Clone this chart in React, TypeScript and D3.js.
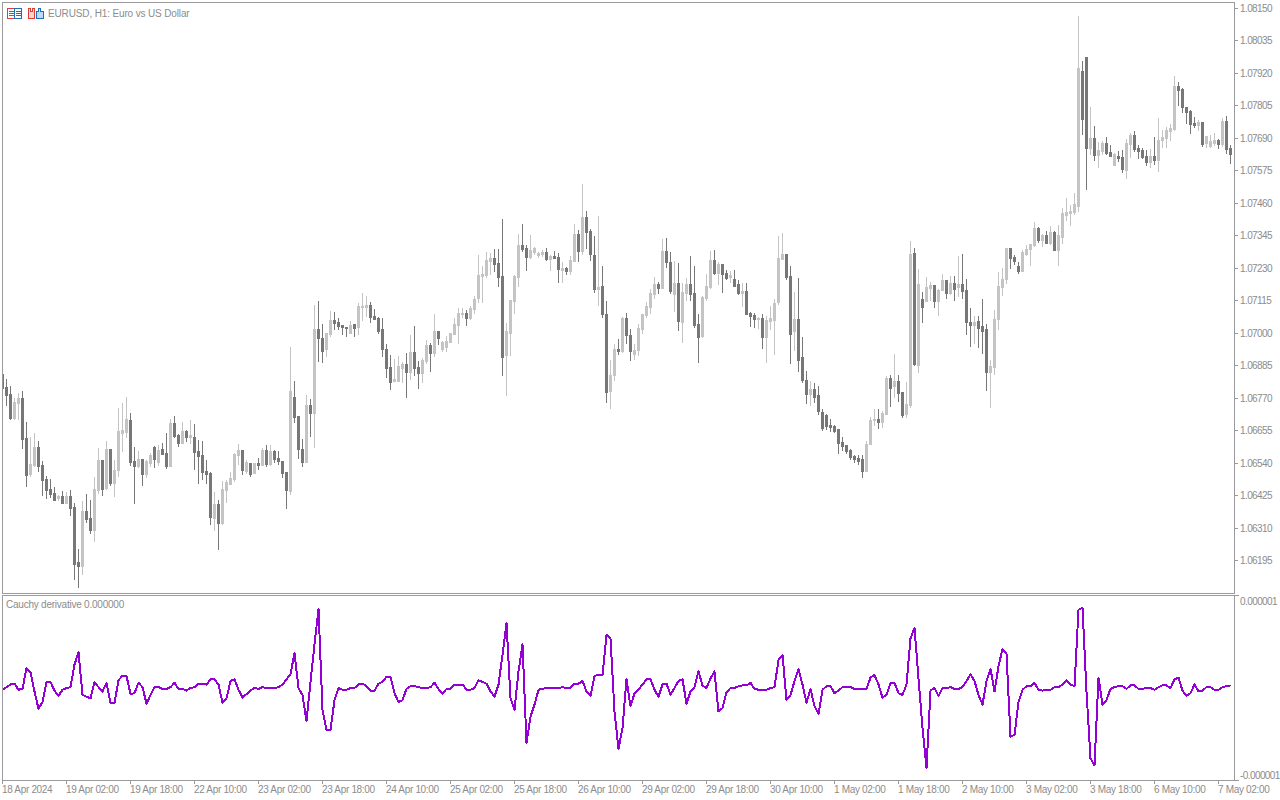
import React from "react";
import * as d3 from "d3";

// Prices are stored in points above 1.00000 (1 point = 0.00001)
const highs = [
6856,6838,6813,6771,6788,6795,6686,6633,6647,6618,
6548,6495,6484,6456,6427,6441,6438,6445,6399,6236,
6406,6431,6410,6491,6594,6551,6618,6590,6551,6735,
6753,6774,6718,6597,6583,6555,6551,6576,6601,6604,
6611,6647,6696,6707,6643,6686,6657,6693,6679,6622,
6618,6551,6509,6438,6410,6477,6480,6509,6576,6608,
6587,6551,6541,6541,6558,6594,6604,6604,6587,6583,
6548,6509,6951,6831,6707,6626,6781,6767,7100,7115,
7033,7001,7079,7076,7054,7030,7023,7044,7033,7108,
7143,7132,7111,7086,7058,7054,6962,6923,6909,6920,
6899,6931,6994,7026,6902,6913,6977,6966,7069,7008,
6973,6991,7001,7054,7090,7090,7083,7097,7132,7277,
7239,7288,7285,7299,7299,7405,7037,7118,7207,7352,
7387,7313,7348,7306,7288,7295,7302,7277,7292,7285,
7253,7235,7274,7387,7366,7529,7433,7370,7345,7416,
7238,7114,6905,6962,6980,7058,7072,7015,6962,7033,
7068,7111,7157,7199,7182,7334,7337,7288,7256,7249,
7178,7196,7274,7238,7068,7132,7210,7291,7295,7252,
7245,7224,7220,7224,7189,7178,7178,7075,7072,7058,
7068,7061,7097,7121,7344,7355,7281,7238,7146,7196,
6987,6866,6831,6824,6813,6732,6714,6697,6675,6661,
6633,6605,6590,6569,6569,6569,6619,6704,6732,6732,
6725,6849,6852,6927,6852,6792,6827,7327,7302,7228,
7147,7200,7182,7172,7157,7210,7189,7203,7203,7274,
7281,7193,7090,7062,7062,7122,7033,6906,7083,7218,
7232,7302,7302,7278,7253,7295,7313,7317,7395,7377,
7352,7363,7380,7363,7384,7444,7480,7455,7497,8124,
7964,7979,7802,7734,7678,7681,7695,7667,7639,7646,
7649,7688,7710,7717,7667,7656,7649,7653,7695,7763,
7720,7731,7741,7911,7890,7869,7802,7791,7766,7756,
7749,7699,7702,7710,7688,7763,7770,7667];

const lows = [
6807,6746,6696,6696,6696,6594,6459,6495,6530,6512,
6427,6417,6420,6410,6410,6399,6399,6356,6130,6102,
6148,6332,6293,6264,6434,6427,6449,6463,6424,6495,
6583,6633,6533,6399,6526,6463,6491,6530,6526,6533,
6572,6523,6530,6633,6601,6611,6618,6611,6519,6470,
6484,6470,6325,6303,6236,6325,6403,6466,6477,6537,
6502,6505,6495,6505,6519,6533,6530,6533,6544,6537,
6491,6381,6431,6686,6558,6530,6544,6636,6597,6902,
6899,6920,6991,7016,7016,6998,6991,7001,6991,6998,
7047,7062,7040,7051,7001,6920,6846,6803,6831,6831,
6828,6775,6839,6853,6807,6828,6895,6867,6920,6962,
6938,6938,6970,6998,6966,7058,7030,7051,7072,7111,
7111,7200,7210,7221,7168,6853,6782,6923,7072,7168,
7292,7224,7267,7281,7270,7274,7260,7224,7267,7182,
7182,7210,7210,7256,7256,7281,7302,7260,7147,7100,
7058,6757,6736,6835,6927,6934,6966,6905,6909,6923,
7001,7058,7072,7125,7143,7160,7235,7143,7079,7012,
6969,7118,7118,7022,6898,6987,7118,7160,7210,7174,
7146,7192,7182,7167,7139,7097,7068,7026,7022,7019,
6948,6898,7015,6927,7104,7263,7192,6895,6941,6866,
6827,6753,6746,6757,6714,6658,6661,6654,6651,6576,
6587,6576,6555,6544,6537,6491,6512,6608,6675,6665,
6668,6714,6743,6774,6760,6704,6704,6740,6888,6863,
7041,7115,7118,7094,7065,7154,7125,7140,7118,7133,
7125,6998,6956,6966,6952,6931,6800,6740,6856,7016,
7136,7179,7232,7246,7214,7221,7278,7242,7310,7324,
7310,7320,7317,7295,7242,7320,7402,7384,7423,7433,
7706,7511,7635,7614,7589,7635,7635,7628,7596,7610,
7572,7550,7625,7646,7621,7621,7596,7589,7600,7575,
7660,7660,7685,7720,7809,7784,7745,7710,7731,7720,
7664,7660,7660,7667,7656,7664,7639,7603];

const opens = [
6856,6810,6785,6700,6753,6771,6629,6502,6533,6597,
6533,6484,6449,6434,6417,6424,6399,6424,6385,6190,
6176,6371,6346,6303,6445,6551,6452,6590,6470,6516,
6647,6650,6693,6548,6530,6555,6502,6541,6597,6544,
6590,6576,6530,6682,6640,6611,6654,6633,6633,6583,
6569,6512,6505,6346,6395,6328,6445,6466,6484,6569,
6587,6512,6541,6505,6541,6533,6587,6537,6583,6558,
6548,6509,6441,6774,6707,6590,6544,6746,6718,7016,
6984,6945,6998,7047,7040,7030,7023,7001,7033,7023,
7093,7093,7100,7062,7054,7016,6945,6881,6831,6831,
6877,6892,6863,6934,6881,6860,6902,6959,6931,7008,
6945,6952,6970,6998,7030,7069,7072,7054,7086,7125,
7203,7207,7256,7267,7249,7203,6923,7001,7115,7200,
7313,7302,7270,7288,7277,7281,7288,7263,7274,7270,
7224,7231,7221,7256,7352,7292,7412,7362,7277,7157,
7167,7068,6796,6852,6944,6937,7054,6994,6927,6941,
7015,7065,7093,7139,7174,7160,7291,7252,7139,7178,
7040,7143,7174,7143,7033,6990,7125,7164,7259,7213,
7245,7213,7199,7192,7174,7143,7150,7072,7065,7051,
7054,6987,7043,7047,7111,7263,7281,7203,7008,7051,
6916,6835,6785,6803,6781,6721,6711,6675,6672,6661,
6615,6605,6587,6566,6558,6555,6512,6608,6693,6697,
6686,6714,6842,6813,6831,6792,6714,6747,7285,6888,
7122,7115,7161,7172,7115,7154,7189,7143,7179,7164,
7175,7154,7041,7030,7044,7026,7016,6863,6881,7051,
7164,7193,7302,7271,7239,7221,7281,7299,7313,7373,
7331,7349,7320,7359,7295,7341,7419,7426,7430,7451,
7929,7979,7656,7692,7632,7646,7674,7642,7596,7628,
7625,7579,7671,7702,7656,7649,7628,7607,7628,7614,
7685,7692,7717,7724,7876,7865,7802,7787,7745,7738,
7749,7674,7664,7674,7685,7671,7752,7656];

const closes = [
6807,6781,6700,6757,6771,6626,6498,6537,6597,6530,
6480,6445,6431,6410,6424,6399,6424,6381,6183,6176,
6371,6342,6303,6449,6551,6449,6590,6470,6516,6654,
6657,6696,6544,6530,6555,6502,6548,6569,6555,6587,
6572,6530,6682,6636,6611,6654,6633,6640,6580,6565,
6509,6502,6349,6395,6328,6449,6473,6487,6572,6587,
6516,6544,6502,6541,6533,6587,6537,6583,6555,6548,
6505,6445,6795,6703,6590,6544,6746,6718,7016,6984,
6938,7001,7047,7037,7026,7023,7019,7030,7019,7097,
7097,7100,7058,7051,7008,6945,6877,6828,6839,6885,
6892,6863,6934,6877,6860,6906,6959,6931,7008,6984,
6970,6973,7001,7033,7072,7072,7054,7090,7122,7207,
7210,7260,7267,7246,7200,6916,7008,7118,7203,7313,
7299,7270,7295,7302,7285,7288,7263,7274,7267,7228,
7231,7221,7260,7352,7292,7412,7359,7281,7157,7164,
7068,6792,6852,6944,6937,7054,6994,6937,6941,7019,
7068,7097,7143,7174,7160,7291,7252,7150,7178,7043,
7146,7174,7139,7029,6987,7128,7167,7259,7213,7245,
7210,7196,7206,7167,7143,7150,7068,7061,7051,7054,
6987,7047,7054,7107,7266,7281,7199,6997,7051,6905,
6835,6785,6803,6774,6725,6665,6672,6668,6654,6612,
6601,6583,6562,6555,6548,6512,6608,6693,6697,6686,
6718,6842,6806,6831,6789,6711,6750,7281,6892,7175,
7094,7164,7172,7115,7154,7189,7143,7179,7157,7175,
7150,7041,7030,7041,7019,7009,6863,6885,7051,7168,
7193,7302,7267,7256,7221,7288,7299,7317,7373,7331,
7349,7320,7359,7295,7349,7426,7430,7433,7458,7940,
7759,7656,7692,7632,7649,7674,7639,7628,7635,7621,
7582,7674,7702,7653,7646,7625,7607,7628,7614,7685,
7695,7720,7727,7876,7862,7802,7784,7741,7738,7749,
7671,7699,7681,7685,7671,7752,7653,7635];

// Indicator, in units of 0.00000001
const cauchy = [
-2,1,4,5,-2,-1,23,18,-4,-24,-16,7,7,-3,-9,-2,0,1,27,41,
-8,-10,-12,7,1,-4,6,-17,-17,9,14,14,-7,-6,6,1,-18,-8,1,1,
-1,-1,1,6,-1,-1,-3,0,1,5,5,4,10,10,4,-17,-12,8,10,-2,
-11,-7,-3,0,-1,1,0,0,0,1,4,10,16,40,0,-8,-38,7,50,91,
-25,-48,-48,-14,0,-2,-2,0,0,4,5,2,-3,-3,5,7,13,13,-6,-16,
-14,-1,2,2,1,0,0,1,6,-1,-7,-1,-1,4,4,4,-2,-2,0,9,
7,5,-4,-10,4,38,75,-12,-25,19,50,-63,-33,-19,-2,-1,0,0,0,0,
1,0,0,5,5,8,-4,-9,14,15,15,61,57,-27,-70,-46,10,-21,-6,-2,
4,10,10,-2,-10,4,5,-8,0,8,10,-18,-4,1,19,3,0,11,19,-27,
-23,-5,0,0,2,3,3,6,-1,-2,-2,-2,0,1,32,38,-14,-8,8,22,
4,-17,-1,-21,-30,-2,2,2,-6,-3,1,1,1,-1,-1,-1,-1,12,15,4,
-11,-8,6,6,-6,-8,4,57,69,11,-46,-92,-3,0,-9,0,0,1,-1,-1,
1,8,16,8,-8,-19,8,22,-4,25,45,39,-56,-54,-16,-2,2,2,6,-2,
-3,-2,-2,1,1,4,9,4,2,90,92,-4,-81,-89,12,-19,-14,-1,1,2,
2,-1,3,3,-1,-1,0,0,-2,1,3,3,0,10,12,-3,-9,-6,4,-4,
-3,1,1,-2,-2,1,2,3];

const priceTicks = [8150,8035,7920,7805,7690,7575,7460,7345,7230,7115,7000,6885,6770,6655,6540,6425,6310,6195];
const timeLabels = ["18 Apr 2024","19 Apr 02:00","19 Apr 18:00","22 Apr 10:00","23 Apr 02:00","23 Apr 18:00","24 Apr 10:00","25 Apr 02:00","25 Apr 18:00","26 Apr 10:00","29 Apr 02:00","29 Apr 18:00","30 Apr 10:00","1 May 02:00","1 May 18:00","2 May 10:00","3 May 02:00","3 May 18:00","6 May 10:00","7 May 02:00"];
const cauchyTicks = [100,-100];
const cauchyLabels = ["0.000001","-0.000001"];
const title = "EURUSD, H1:  Euro vs US Dollar";
const indicatorTitle = "Cauchy derivative 0.000000";
const BARS_PER_LABEL = 16;

const FRAME = "#9a9a9e";
const TEXT = "#8c8c8c";
const DARK = "#777777";
const LIGHT = "#c4c4c4";
const VIOLET = "#9400d3";
const FONT = "Liberation Sans, Arial, sans-serif";

const left = 2, right = 1234;
const top1 = 2, bottom1 = 593, top2 = 595, bottom2 = 780;

export default function App() {
  const x = d3.scaleLinear().domain([0, 308]).range([2, 2 + 4 * 308]);
  const y = d3.scaleLinear().domain([6195, 8150]).range([560.5, 8.5]);
  const yi = d3.scaleLinear().domain([-100, 100]).range([775, 601]);
  const line = d3.line<number>().x((_, i) => x(i) + 0.5).y((v) => yi(v)).curve(d3.curveLinear);

  return (
    <svg width={1280} height={800} style={{ position: "fixed", left: 0, top: 0, background: "#fff" }} fontFamily={FONT} fontSize={10}>
      <defs>
        <clipPath id="c1"><rect x={left} y={top1} width={right - left} height={bottom1 - top1} /></clipPath>
        <clipPath id="c2"><rect x={left} y={top2} width={right - left} height={bottom2 - top2} /></clipPath>
      </defs>

      <g clipPath="url(#c1)" shapeRendering="crispEdges">
        {highs.map((h, i) => {
          const up = closes[i] >= opens[i];
          const col = up ? LIGHT : DARK;
          const cx = x(i);
          const yh = Math.round(y(h));
          const yl = Math.round(y(lows[i]));
          const yt = Math.round(y(Math.max(opens[i], closes[i])));
          const yb = Math.round(y(Math.min(opens[i], closes[i])));
          return (
            <g key={i} fill={col}>
              <rect x={cx} y={yh} width={1} height={Math.max(1, yl - yh + 1)} />
              <rect x={cx - 1} y={yt} width={3} height={Math.max(1, yb - yt + 1)} />
            </g>
          );
        })}
      </g>

      <g clipPath="url(#c2)">
        <path d={line(cauchy) as string} fill="none" stroke={VIOLET} strokeWidth={2} strokeLinejoin="round" shapeRendering="crispEdges" />
      </g>

      <g shapeRendering="crispEdges" fill="none" stroke={FRAME}>
        <rect x={left + 0.5} y={top1 + 0.5} width={right - left} height={bottom1 - top1} />
        <rect x={left + 0.5} y={top2 + 0.5} width={right - left} height={bottom2 - top2} />
        {priceTicks.map((t) => (
          <line key={t} x1={right} x2={right + 4} y1={Math.floor(y(t)) + 0.5} y2={Math.floor(y(t)) + 0.5} />
        ))}
        {cauchyTicks.map((t, k) => (
          <line key={t} x1={right} x2={right + 5} y1={(k === 0 ? top2 : bottom2) + 0.5} y2={(k === 0 ? top2 : bottom2) + 0.5} />
        ))}
        {timeLabels.map((_, k) => (
          <line key={k} x1={x(k * BARS_PER_LABEL) + 0.5} x2={x(k * BARS_PER_LABEL) + 0.5} y1={bottom2} y2={bottom2 + 4} />
        ))}
      </g>

      <g fill={TEXT}>
        {priceTicks.map((t) => (
          <text key={t} x={1240} y={Math.floor(y(t)) + 4} letterSpacing={-0.6}>{(1 + t / 100000).toFixed(5)}</text>
        ))}
        {cauchyTicks.map((t, k) => (
          <text key={t} x={1240} y={yi(t) + 4} letterSpacing={-0.58}>{cauchyLabels[k]}</text>
        ))}
        {timeLabels.map((s, k) => (
          <text key={s} x={x(k * BARS_PER_LABEL)} y={793} letterSpacing={-0.33}>{s}</text>
        ))}
        <text x={48} y={17} letterSpacing={-0.14}>{title}</text>
        <text x={6} y={608} letterSpacing={-0.23}>{indicatorTitle}</text>
      </g>

      <g shapeRendering="crispEdges">
        <rect x={7.5} y={8.5} width={7} height={10} fill="#fff" stroke="#e03c31" />
        <rect x={14.5} y={8.5} width={7} height={10} fill="#fff" stroke="#1f6fb5" />
        {[11, 13, 15].map((v) => (
          <g key={v}>
            <line x1={9} x2={14} y1={v + 0.5} y2={v + 0.5} stroke="#e03c31" />
            <line x1={16} x2={21} y1={v + 0.5} y2={v + 0.5} stroke="#1f6fb5" />
          </g>
        ))}
        <path d="M28.5 8.5 H30.5 V11.5 H32.5 V8.5 H34.5 V18.5 H28.5 Z" fill="#fbd5cc" stroke="#e03c31" />
        <path d="M36.5 11.5 H38.5 V8.5 H40.5 V11.5 H43.5 V18.5 H36.5 Z" fill="#bcdcf2" stroke="#1f6fb5" />
      </g>
    </svg>
  );
}
